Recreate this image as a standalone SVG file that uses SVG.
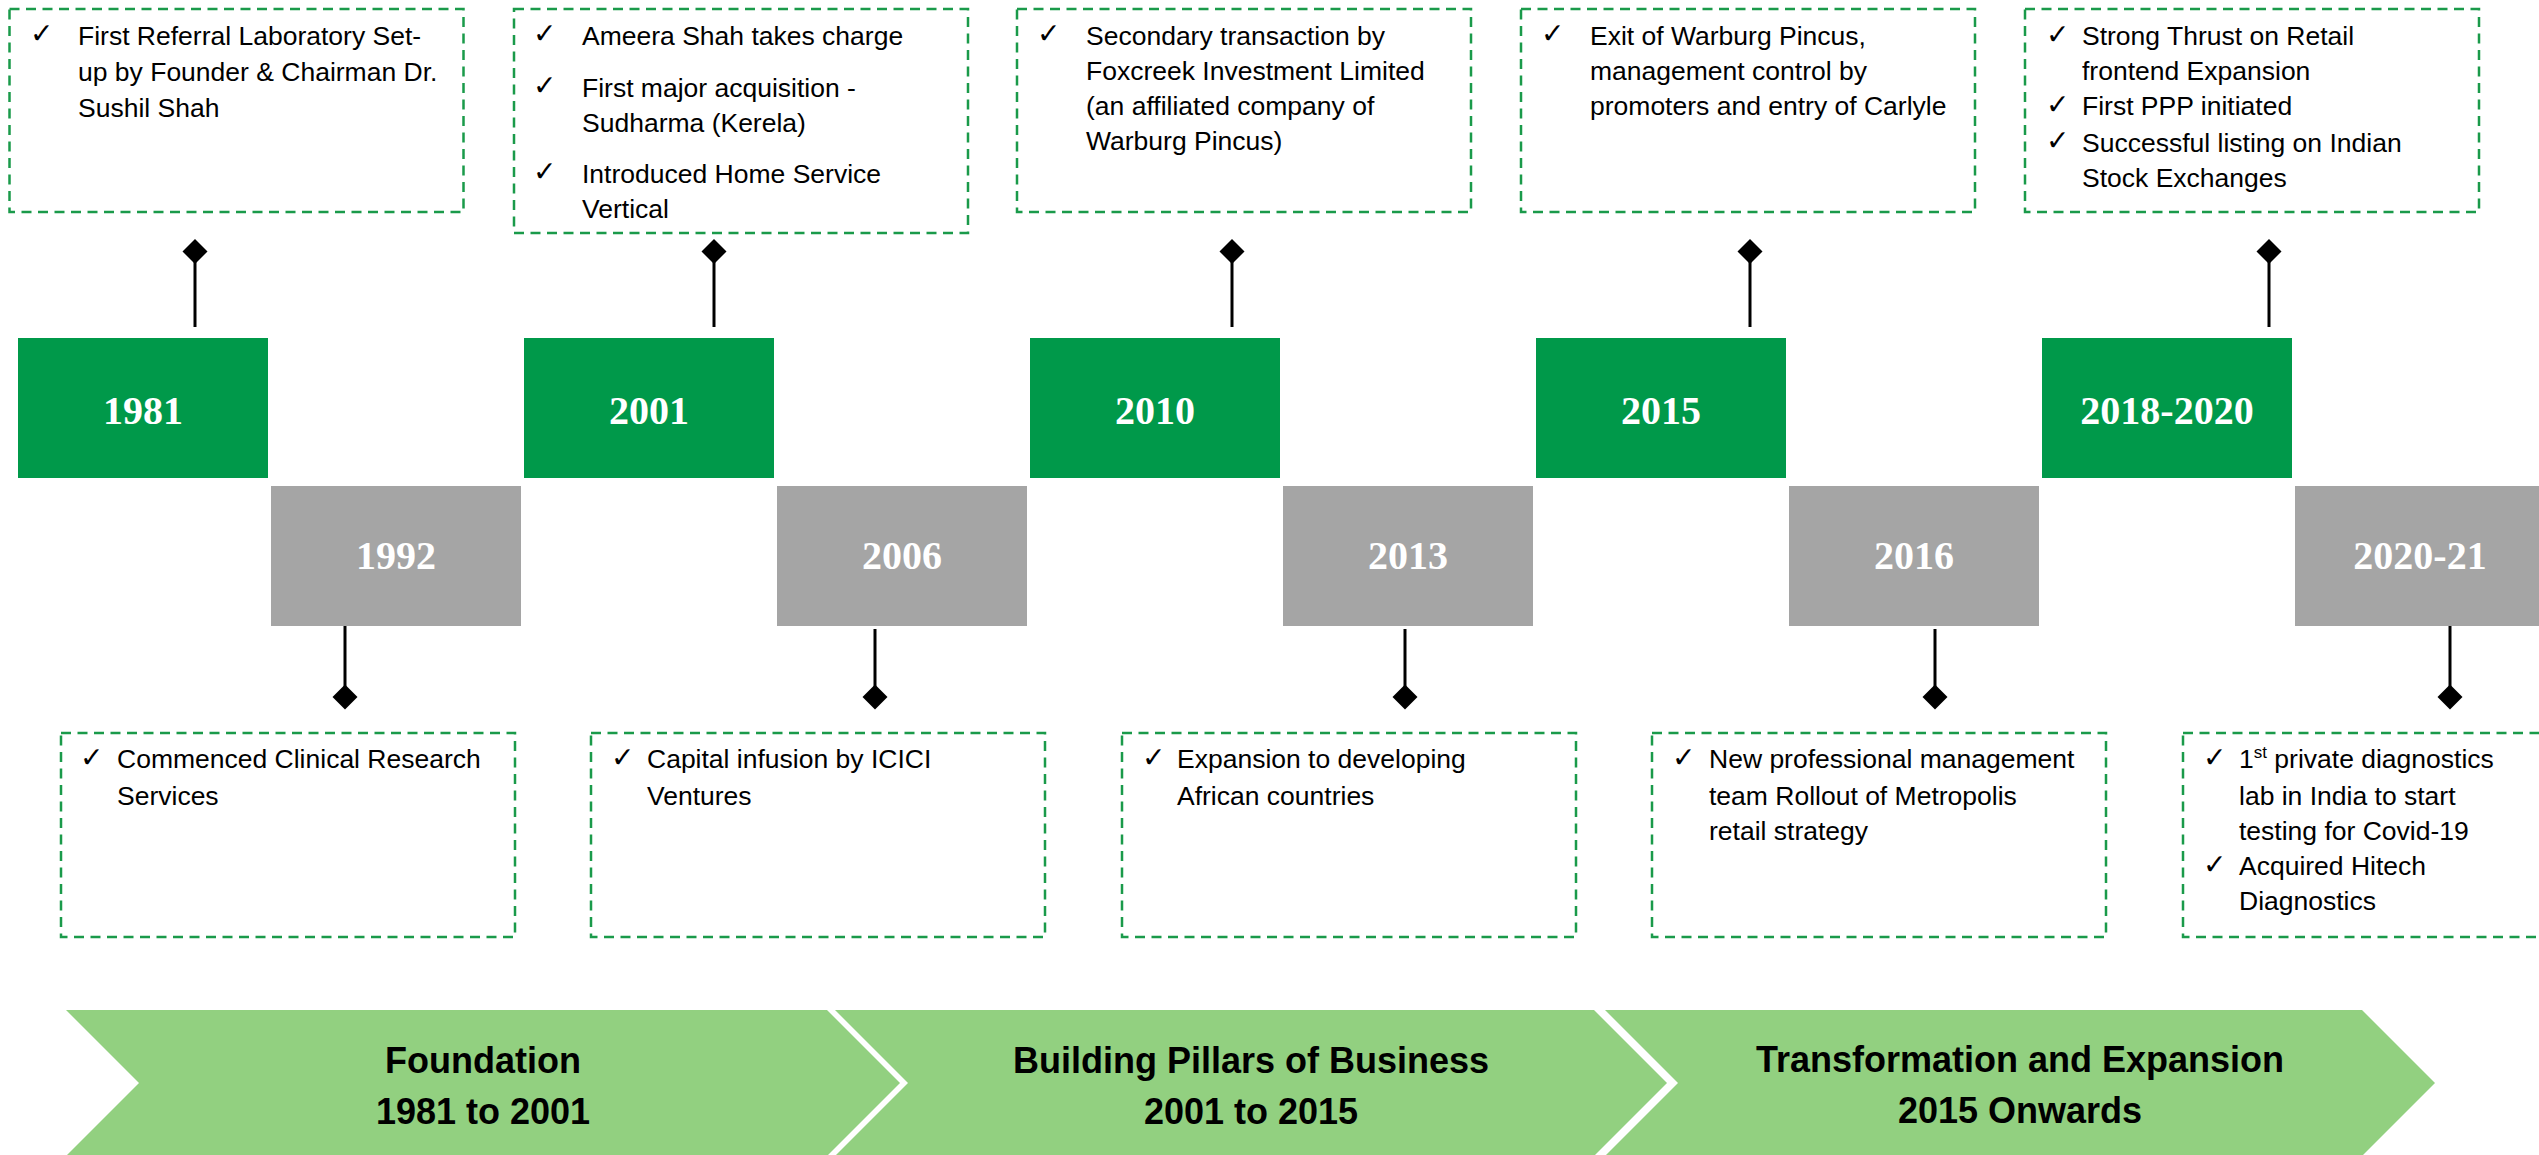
<svg xmlns="http://www.w3.org/2000/svg" width="2539" height="1155" viewBox="0 0 2539 1155">
<style>
.box{fill:#fff;stroke:#1A9A4A;stroke-width:2.5;stroke-dasharray:10 6.5}
.t{font-family:"Liberation Sans",Arial,sans-serif;font-size:26.5px;fill:#000}
.ck{font-family:"DejaVu Sans",sans-serif;font-size:28px;fill:#000}
.g{fill:#00994A}
.gr{fill:#A5A5A5}
.yr{font-family:"Liberation Serif","Times New Roman",serif;font-weight:bold;font-size:40px;fill:#fff;text-anchor:middle}
.cv{fill:#92D080}
.ph{font-family:"Liberation Sans",Arial,sans-serif;font-weight:bold;font-size:36px;fill:#000;text-anchor:middle}
.ln{stroke:#000;stroke-width:3;fill:none}
.dm{fill:#000}
</style>
<rect width="2539" height="1155" fill="#fff"/>

<g id="connectors">
  <line class="ln" x1="195" y1="262" x2="195" y2="327"/>
  <path class="dm" d="M195 239 L207.5 251.5 L195 264 L182.5 251.5 Z"/>
  <line class="ln" x1="714" y1="262" x2="714" y2="327"/>
  <path class="dm" d="M714 239 L726.5 251.5 L714 264 L701.5 251.5 Z"/>
  <line class="ln" x1="1232" y1="262" x2="1232" y2="327"/>
  <path class="dm" d="M1232 239 L1244.5 251.5 L1232 264 L1219.5 251.5 Z"/>
  <line class="ln" x1="1750" y1="262" x2="1750" y2="327"/>
  <path class="dm" d="M1750 239 L1762.5 251.5 L1750 264 L1737.5 251.5 Z"/>
  <line class="ln" x1="2269" y1="262" x2="2269" y2="327"/>
  <path class="dm" d="M2269 239 L2281.5 251.5 L2269 264 L2256.5 251.5 Z"/>

  <line class="ln" x1="345" y1="622" x2="345" y2="688"/>
  <path class="dm" d="M345 684.5 L357.5 697 L345 709.5 L332.5 697 Z"/>
  <line class="ln" x1="875" y1="629" x2="875" y2="688"/>
  <path class="dm" d="M875 684.5 L887.5 697 L875 709.5 L862.5 697 Z"/>
  <line class="ln" x1="1405" y1="629" x2="1405" y2="688"/>
  <path class="dm" d="M1405 684.5 L1417.5 697 L1405 709.5 L1392.5 697 Z"/>
  <line class="ln" x1="1935" y1="629" x2="1935" y2="688"/>
  <path class="dm" d="M1935 684.5 L1947.5 697 L1935 709.5 L1922.5 697 Z"/>
  <line class="ln" x1="2450" y1="620" x2="2450" y2="688"/>
  <path class="dm" d="M2450 684.5 L2462.5 697 L2450 709.5 L2437.5 697 Z"/>
</g>

<g id="y1981">
  <rect class="g" x="18" y="338" width="250" height="140"/>
  <text class="yr" x="143" y="424">1981</text>
</g>
<g id="y2001">
  <rect class="g" x="524" y="338" width="250" height="140"/>
  <text class="yr" x="649" y="424">2001</text>
</g>
<g id="y2010">
  <rect class="g" x="1030" y="338" width="250" height="140"/>
  <text class="yr" x="1155" y="424">2010</text>
</g>
<g id="y2015">
  <rect class="g" x="1536" y="338" width="250" height="140"/>
  <text class="yr" x="1661" y="424">2015</text>
</g>
<g id="y2018">
  <rect class="g" x="2042" y="338" width="250" height="140"/>
  <text class="yr" x="2167" y="424">2018-2020</text>
</g>

<g id="y1992">
  <rect class="gr" x="271" y="486" width="250" height="140"/>
  <text class="yr" x="396" y="569">1992</text>
</g>
<g id="y2006">
  <rect class="gr" x="777" y="486" width="250" height="140"/>
  <text class="yr" x="902" y="569">2006</text>
</g>
<g id="y2013">
  <rect class="gr" x="1283" y="486" width="250" height="140"/>
  <text class="yr" x="1408" y="569">2013</text>
</g>
<g id="y2016">
  <rect class="gr" x="1789" y="486" width="250" height="140"/>
  <text class="yr" x="1914" y="569">2016</text>
</g>
<g id="y2020">
  <rect class="gr" x="2295" y="486" width="250" height="140"/>
  <text class="yr" x="2420" y="569">2020-21</text>
</g>

<g id="note1981">
  <rect class="box" x="9.5" y="9" width="454" height="203"/>
  <text class="ck" x="30" y="43">✓</text>
  <text class="t" x="78" y="45">First Referral Laboratory Set-</text>
  <text class="t" x="78" y="81">up by Founder &amp; Chairman Dr.</text>
  <text class="t" x="78" y="117">Sushil Shah</text>
</g>
<g id="note2001">
  <rect class="box" x="514" y="9" width="454" height="224"/>
  <text class="ck" x="533" y="43">✓</text>
  <text class="t" x="582" y="45">Ameera Shah takes charge</text>
  <text class="ck" x="533" y="95">✓</text>
  <text class="t" x="582" y="97">First major acquisition -</text>
  <text class="t" x="582" y="132">Sudharma (Kerela)</text>
  <text class="ck" x="533" y="181">✓</text>
  <text class="t" x="582" y="183">Introduced Home Service</text>
  <text class="t" x="582" y="218">Vertical</text>
</g>
<g id="note2010">
  <rect class="box" x="1017" y="9" width="454" height="203"/>
  <text class="ck" x="1037" y="43">✓</text>
  <text class="t" x="1086" y="45">Secondary transaction by</text>
  <text class="t" x="1086" y="80">Foxcreek Investment Limited</text>
  <text class="t" x="1086" y="115">(an affiliated company of</text>
  <text class="t" x="1086" y="150">Warburg Pincus)</text>
</g>
<g id="note2015">
  <rect class="box" x="1521" y="9" width="454" height="203"/>
  <text class="ck" x="1541" y="43">✓</text>
  <text class="t" x="1590" y="45">Exit of Warburg Pincus,</text>
  <text class="t" x="1590" y="80">management control by</text>
  <text class="t" x="1590" y="115">promoters and entry of Carlyle</text>
</g>
<g id="note2018">
  <rect class="box" x="2025" y="9" width="454" height="203"/>
  <text class="ck" x="2046" y="44">✓</text>
  <text class="t" x="2082" y="45">Strong Thrust on Retail</text>
  <text class="t" x="2082" y="80">frontend Expansion</text>
  <text class="ck" x="2046" y="114">✓</text>
  <text class="t" x="2082" y="115">First PPP initiated</text>
  <text class="ck" x="2046" y="150">✓</text>
  <text class="t" x="2082" y="152">Successful listing on Indian</text>
  <text class="t" x="2082" y="187">Stock Exchanges</text>
</g>

<g id="note1992">
  <rect class="box" x="61" y="733" width="454" height="204"/>
  <text class="ck" x="80" y="767">✓</text>
  <text class="t" x="117" y="768">Commenced Clinical Research</text>
  <text class="t" x="117" y="805">Services</text>
</g>
<g id="note2006">
  <rect class="box" x="591" y="733" width="454" height="204"/>
  <text class="ck" x="611" y="767">✓</text>
  <text class="t" x="647" y="768">Capital infusion by ICICI</text>
  <text class="t" x="647" y="805">Ventures</text>
</g>
<g id="note2013">
  <rect class="box" x="1122" y="733" width="454" height="204"/>
  <text class="ck" x="1142" y="767">✓</text>
  <text class="t" x="1177" y="768">Expansion to developing</text>
  <text class="t" x="1177" y="805">African countries</text>
</g>
<g id="note2016">
  <rect class="box" x="1652" y="733" width="454" height="204"/>
  <text class="ck" x="1672" y="767">✓</text>
  <text class="t" x="1709" y="768">New professional management</text>
  <text class="t" x="1709" y="805">team Rollout of Metropolis</text>
  <text class="t" x="1709" y="840">retail strategy</text>
</g>
<g id="note2020">
  <rect class="box" x="2183" y="733" width="454" height="204"/>
  <text class="ck" x="2203" y="767">✓</text>
  <text class="t" x="2239" y="768">1<tspan font-size="17" dy="-10">st</tspan><tspan dy="10"> private diagnostics</tspan></text>
  <text class="t" x="2239" y="805">lab in India to start</text>
  <text class="t" x="2239" y="840">testing for Covid-19</text>
  <text class="ck" x="2203" y="874">✓</text>
  <text class="t" x="2239" y="875">Acquired Hitech</text>
  <text class="t" x="2239" y="910">Diagnostics</text>
</g>

<g id="phase1">
  <path class="cv" d="M66 1010 L827 1010 L900 1083 L827 1156 L66 1156 L139 1083 Z"/>
  <text class="ph" x="483" y="1073">Foundation</text>
  <text class="ph" x="483" y="1124">1981 to 2001</text>
</g>
<g id="phase2">
  <path class="cv" d="M835 1010 L1594 1010 L1667 1083 L1594 1156 L835 1156 L908 1083 Z"/>
  <text class="ph" x="1251" y="1073">Building Pillars of Business</text>
  <text class="ph" x="1251" y="1124">2001 to 2015</text>
</g>
<g id="phase3">
  <path class="cv" d="M1605 1010 L2362 1010 L2435 1083 L2362 1156 L1605 1156 L1678 1083 Z"/>
  <text class="ph" x="2020" y="1072">Transformation and Expansion</text>
  <text class="ph" x="2020" y="1123">2015 Onwards</text>
</g>
</svg>
